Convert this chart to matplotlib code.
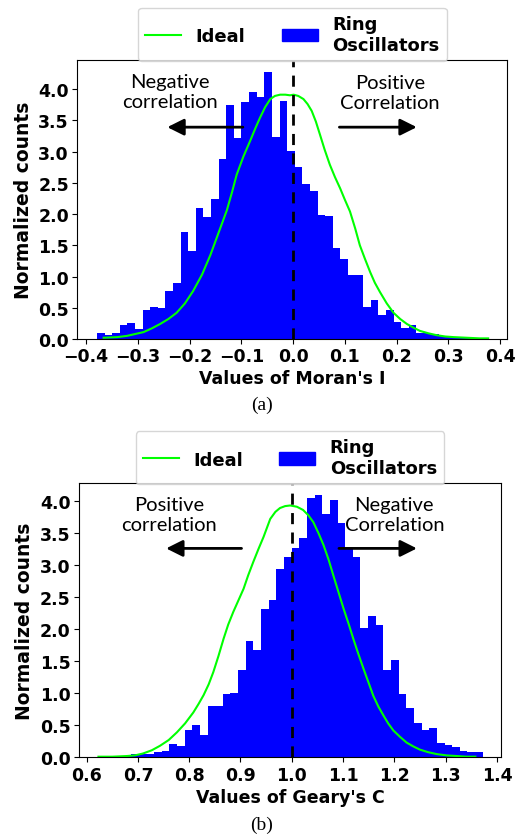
import numpy as np
import matplotlib.pyplot as plt
from matplotlib.lines import Line2D
from matplotlib.patches import Patch

# Moran's I histogram (50 bins)
moran_range = (-0.379, 0.356)
moran_counts = [0.10, 0.06, 0.10, 0.22, 0.26, 0.16, 0.46, 0.51, 0.49, 0.77,
                0.90, 1.72, 1.41, 2.09, 1.96, 2.24, 2.88, 3.75, 3.21, 3.80,
                3.95, 3.87, 4.28, 3.24, 3.81, 3.01, 2.76, 2.48, 2.37, 1.98,
                1.97, 1.45, 1.28, 1.02, 1.02, 0.51, 0.63, 0.38, 0.47, 0.27,
                0.17, 0.22, 0.10, 0.10, 0.08, 0.05, 0.03, 0.02, 0.02, 0.02]
moran_ideal_x = [-0.366, -0.340, -0.321, -0.305, -0.289, -0.273, -0.257, -0.241,
                 -0.225, -0.209, -0.193, -0.176, -0.160, -0.144, -0.128, -0.118,
                 -0.109, -0.096, -0.083, -0.073, -0.064, -0.054, -0.044, -0.035,
                 -0.025, -0.015, -0.006, 0.001, 0.010, 0.020, 0.028, 0.036,
                 0.044, 0.052, 0.061, 0.071, 0.081, 0.091, 0.100, 0.110, 0.120,
                 0.129, 0.139, 0.149, 0.158, 0.168, 0.181, 0.194, 0.207, 0.220,
                 0.233, 0.245, 0.262, 0.278, 0.294, 0.310, 0.335, 0.361, 0.377]
moran_ideal_y = [0.02, 0.03, 0.05, 0.08, 0.11, 0.17, 0.24, 0.32,
                 0.42, 0.57, 0.77, 1.03, 1.34, 1.70, 2.06, 2.35,
                 2.63, 2.92, 3.17, 3.37, 3.54, 3.71, 3.84, 3.89,
                 3.91, 3.91, 3.90, 3.91, 3.89, 3.84, 3.76, 3.65,
                 3.48, 3.27, 3.03, 2.79, 2.59, 2.41, 2.23, 2.04, 1.77,
                 1.50, 1.28, 1.07, 0.90, 0.75, 0.57, 0.42, 0.32, 0.24,
                 0.18, 0.13, 0.09, 0.06, 0.04, 0.03, 0.02, 0.01, 0.01]

# Geary's C histogram (50 bins)
geary_range = (0.627, 1.3725)
geary_counts = [0.02, 0.01, 0.02, 0.02, 0.05, 0.05, 0.05, 0.09, 0.10, 0.21,
                0.17, 0.43, 0.51, 0.35, 0.80, 0.80, 0.99, 1.01, 1.37, 1.82,
                1.68, 2.32, 2.46, 2.94, 3.12, 3.26, 3.42, 4.05, 4.10, 3.79,
                4.02, 3.65, 3.25, 3.12, 2.02, 2.21, 2.06, 1.37, 1.52, 0.99,
                0.77, 0.54, 0.42, 0.46, 0.23, 0.20, 0.16, 0.10, 0.09, 0.09]
geary_ideal_x = [0.623, 0.650, 0.678, 0.694, 0.710, 0.727, 0.743, 0.760, 0.776,
                 0.792, 0.808, 0.818, 0.828, 0.838, 0.847, 0.857, 0.867, 0.876,
                 0.886, 0.896, 0.906, 0.915, 0.925, 0.935, 0.945, 0.958, 0.968,
                 0.977, 0.987, 0.997, 1.010, 1.022, 1.032, 1.042, 1.052, 1.062,
                 1.072, 1.081, 1.091, 1.101, 1.111, 1.120, 1.130, 1.140, 1.150,
                 1.159, 1.169, 1.179, 1.188, 1.198, 1.211, 1.224, 1.237, 1.250,
                 1.266, 1.283, 1.302, 1.322, 1.340, 1.358]
geary_ideal_y = [0.01, 0.01, 0.02, 0.03, 0.06, 0.11, 0.18, 0.27, 0.39,
                 0.53, 0.70, 0.83, 0.97, 1.14, 1.33, 1.58, 1.85, 2.07,
                 2.27, 2.45, 2.63, 2.84, 3.05, 3.25, 3.44, 3.72, 3.83,
                 3.89, 3.92, 3.93, 3.91, 3.86, 3.78, 3.67, 3.50, 3.31,
                 3.08, 2.84, 2.58, 2.32, 2.08, 1.85, 1.61, 1.38, 1.16,
                 0.96, 0.79, 0.65, 0.53, 0.42, 0.32, 0.23, 0.17, 0.12,
                 0.08, 0.05, 0.03, 0.02, 0.01, 0.01]

plt.rcParams['font.weight'] = 'bold'

fig = plt.figure(figsize=(5.23, 8.37), dpi=100)
ax1 = fig.add_axes([0.1478, 0.5938, 0.8222, 0.3337])
ax2 = fig.add_axes([0.151, 0.094, 0.8069, 0.3277])


def draw_panel(ax, rng, counts, ix, iy, center, xlabel, xlim, ylim, texts):
    edges = np.linspace(rng[0], rng[1], len(counts) + 1)
    ax.stairs(counts, edges, fill=True, color='blue')
    ax.plot(ix, iy, color='lime', lw=1.5)
    ax.axvline(center, color='black', ls='--', lw=2, dashes=(4, 3))
    ax.set_xlim(*xlim)
    ax.set_ylim(*ylim)
    ax.set_yticks(np.arange(0, 4.01, 0.5))
    ax.set_xlabel(xlabel, fontsize=12.5, fontweight='bold', labelpad=3)
    ax.set_ylabel('Normalized counts', fontsize=13.5, fontweight='bold')
    ax.tick_params(labelsize=12.5, pad=2.5)
    for lab in ax.get_xticklabels() + ax.get_yticklabels():
        lab.set_fontweight('bold')
    for (tx, ty, s, ax0, ax1_, ay) in texts:
        ax.text(tx, ty, s, ha='center', va='center', family='Lato',
                fontweight='normal', fontsize=14.5, linespacing=1.2)
        ax.annotate('', xy=(ax1_, ay), xytext=(ax0, ay),
                    arrowprops=dict(arrowstyle='-|>', color='black', lw=2,
                                    mutation_scale=25, shrinkA=0, shrinkB=0))
    handles = [Line2D([], [], color='lime', lw=1.5), Patch(color='blue')]
    ax.legend(handles, ['Ideal', 'Ring\nOscillators'], ncol=2,
              loc='lower center', bbox_to_anchor=(0.5, 0.995),
              borderaxespad=0, prop={'weight': 'bold', 'size': 13})


draw_panel(ax1, moran_range, moran_counts, moran_ideal_x, moran_ideal_y, 0.0,
           "Values of Moran's I", (-0.417, 0.414), (0, 4.47),
           [(-0.238, 3.96, 'Negative\ncorrelation', -0.097, -0.243, 3.39),
            (0.187, 3.95, 'Positive\nCorrelation', 0.0895, 0.239, 3.39)])
ax1.set_xticks(np.arange(-0.4, 0.41, 0.1))

draw_panel(ax2, geary_range, geary_counts, geary_ideal_x, geary_ideal_y, 1.0,
           "Values of Geary's C", (0.585, 1.408), (0, 4.28),
           [(0.761, 3.79, 'Positive\ncorrelation', 0.902, 0.755, 3.26),
            (1.2, 3.79, 'Negative\nCorrelation', 1.092, 1.244, 3.26)])
ax2.set_xticks(np.arange(0.6, 1.41, 0.1))

fig.text(0.501, 1 - 405 / 837, '(a)', ha='center', va='center',
         family='Liberation Serif', fontweight='normal', fontsize=14)
fig.text(0.501, 1 - 825 / 837, '(b)', ha='center', va='center',
         family='Liberation Serif', fontweight='normal', fontsize=14)

fig.savefig('out.png', dpi=100)
